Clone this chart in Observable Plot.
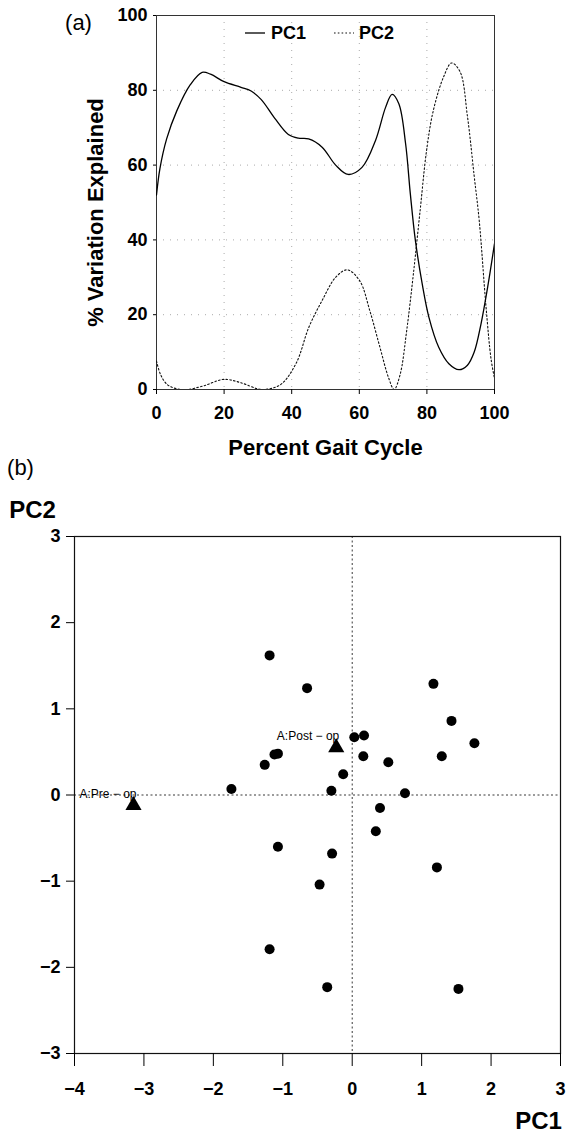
<!DOCTYPE html>
<html>
<head>
<meta charset="utf-8">
<script src="https://cdn.jsdelivr.net/npm/d3@7"></script>
<script src="https://cdn.jsdelivr.net/npm/@observablehq/plot@0.6"></script>
<style>
  body { margin: 0; background: #fff; }
  #wrap { position: relative; width: 566px; height: 1136px; overflow: hidden; background: #fff;
          font-family: "Liberation Sans", Arial, Helvetica, sans-serif; }
  #a { position: absolute; left: 0; top: 0; z-index: 2; }
  #b { position: absolute; left: 0; top: 440px; z-index: 1; }
  #legend { position: absolute; left: 240px; top: 20px; z-index: 3; }
</style>
</head>
<body>
<div id="wrap">
  <div id="a"></div>
  <div id="b"></div>
  <svg id="legend" width="170" height="26"></svg>
</div>
<script>
// ---------- Panel (a): % variation explained across the gait cycle ----------
const pc1Gait   = [0, 1, 3, 6, 10, 13.5, 16, 20, 25, 28, 31, 35, 39, 42, 45, 49, 53, 56.7, 60.8, 64.8, 67.8, 69.7, 71.7, 73.7, 75.1, 76.6, 78.6, 80.6, 83.5, 86.5, 89.5, 92, 94, 96, 98, 100];
const pc1Values = [52, 59, 67, 74.5, 81.5, 84.8, 84.3, 82.3, 80.8, 79.8, 77.5, 72.5, 68.2, 67.2, 67, 64.8, 60, 57.5, 59.4, 66.6, 75.5, 78.9, 76.4, 65.7, 52.3, 39.8, 28.3, 19.3, 11.3, 6.9, 5.3, 6.5, 10, 17.5, 27.5, 39];

const pc2Gait   = [0, 1.2, 3.2, 6, 9, 14, 19.9, 25, 29.8, 31.8, 36.7, 41.3, 45.1, 49, 53, 56.4, 60.1, 63.1, 66.1, 68.6, 70.3, 72.1, 74, 76, 78, 79.9, 81.9, 84.9, 87.3, 89.8, 92, 94, 95.5, 97.5, 99, 100];
const pc2Values = [7.6, 4, 1.3, 0.2, 0, 1.0, 2.7, 1.8, 0.2, 0, 1.3, 7, 16.7, 23.8, 30, 32, 29.1, 21.1, 11.3, 3.3, 0, 4.1, 15.6, 30.9, 47.9, 63.9, 74.6, 83.5, 87.3, 85, 73, 57, 45, 22, 8, 3];

const gaitTicks = [0, 20, 40, 60, 80, 100];
const varTicks  = [0, 20, 40, 60, 80, 100];
const gaitGrid  = [20, 40, 60, 80];
const varGrid   = [20, 40, 60, 80];
const seriesNames = ["PC1", "PC2"];

// ---------- Panel (b): PC scores ----------
const pc1Scores = [-1.19, -0.65, 1.17, 1.43, 1.76, 0.03, 0.17, 0.16, 0.52, 1.29, -1.12, -1.07, -1.26, -0.13, -1.74, -0.30, 0.76, 0.40, 0.34, -1.07, -0.29, 1.22, -0.47, -1.19, -0.36, 1.53];
const pc2Scores = [1.62, 1.24, 1.29, 0.86, 0.60, 0.67, 0.69, 0.45, 0.38, 0.45, 0.47, 0.48, 0.35, 0.24, 0.07, 0.05, 0.02, -0.15, -0.42, -0.60, -0.68, -0.84, -1.04, -1.79, -2.23, -2.25];

const groupLabels = ["A:Pre \u2212 op", "A:Post \u2212 op"];
const groupPC1 = [-3.15, -0.23];
const groupPC2 = [-0.12, 0.55];

const pcXTicks = [-4, -3, -2, -1, 0, 1, 2, 3];
const pcYTicks = [-3, -2, -1, 0, 1, 2, 3];

const FONT = '"Liberation Sans", Arial, Helvetica, sans-serif';
const intFmt = d3.format("d");

const plotA = Plot.plot({
  width: 566,
  height: 460,
  marginLeft: 156,
  marginRight: 72,
  marginTop: 15,
  marginBottom: 71,
  style: { fontFamily: FONT, fontSize: "18px", fontWeight: "bold", background: "none", color: "black", overflow: "visible" },
  x: { domain: [0, 100] },
  y: { domain: [0, 100] },
  marks: [
    Plot.ruleX(gaitGrid, { stroke: "#aaa", strokeDasharray: "1,6", strokeWidth: 1 }),
    Plot.ruleY(varGrid, { stroke: "#aaa", strokeDasharray: "1,6", strokeWidth: 1 }),
    Plot.frame({ stroke: "#333", strokeWidth: 1 }),
    Plot.line(pc2Values, { x: (d, i) => pc2Gait[i], y: d => d, curve: "catmull-rom", stroke: "#111", strokeWidth: 1.1, strokeDasharray: "1.6,2.2", clip: true }),
    Plot.line(pc1Values, { x: (d, i) => pc1Gait[i], y: d => d, curve: "catmull-rom", stroke: "#000", strokeWidth: 1.3, clip: true }),
    Plot.axisX(gaitTicks, { tickSize: 5, tickPadding: 12, label: null, tickFormat: intFmt, fontSize: 18, fontWeight: "bold" }),
    Plot.axisY(varTicks, { tickSize: 3, tickPadding: 6, label: null, tickFormat: intFmt, fontSize: 18, fontWeight: "bold" }),
    Plot.text(["% Variation Explained"], { frameAnchor: "left", dx: -61, dy: 10, rotate: -90, textAnchor: "middle", lineAnchor: "middle", fontSize: 22, fontWeight: "bold" }),
    Plot.text(["Percent Gait Cycle"], { frameAnchor: "bottom", dy: 58, textAnchor: "middle", lineAnchor: "middle", fontSize: 22, fontWeight: "bold" }),
    Plot.text(["(a)"], { frameAnchor: "top-left", dx: -78, dy: 7, textAnchor: "middle", lineAnchor: "middle", fontSize: 22, fontWeight: "normal" })
  ]
});
document.getElementById("a").appendChild(plotA);

// legend
const leg = d3.select("#legend");
leg.append("line").attr("x1", 5).attr("x2", 25).attr("y1", 13).attr("y2", 13).attr("stroke", "#000").attr("stroke-width", 1.3);
leg.append("text").attr("x", 31).attr("y", 13).attr("dy", "0.35em").attr("font-family", FONT).attr("font-size", 18).attr("font-weight", "bold").text(seriesNames[0]);
leg.append("line").attr("x1", 94).attr("x2", 114).attr("y1", 13).attr("y2", 13).attr("stroke", "#111").attr("stroke-width", 1.1).attr("stroke-dasharray", "1.6,2.2");
leg.append("text").attr("x", 119).attr("y", 13).attr("dy", "0.35em").attr("font-family", FONT).attr("font-size", 18).attr("font-weight", "bold").text(seriesNames[1]);

const plotB = Plot.plot({
  width: 566,
  height: 696,
  marginLeft: 74,
  marginRight: 6,
  marginTop: 96,
  marginBottom: 83,
  style: { fontFamily: FONT, fontSize: "18px", fontWeight: "bold", background: "none", color: "black", overflow: "visible" },
  x: { domain: [-4, 3] },
  y: { domain: [-3, 3] },
  marks: [
    Plot.ruleX([0], { stroke: "#222", strokeDasharray: "2,2.5", strokeWidth: 0.9 }),
    Plot.ruleY([0], { stroke: "#222", strokeDasharray: "2,2.5", strokeWidth: 0.9 }),
    Plot.frame({ stroke: "#111", strokeWidth: 1.2 }),
    Plot.dot(pc1Scores, { x: d => d, y: (d, i) => pc2Scores[i], r: 5, fill: "#000", stroke: "none" }),
    Plot.dot(groupPC1, { x: d => d, y: (d, i) => groupPC2[i], symbol: "triangle", r: 6, fill: "#000", stroke: "none" }),
    Plot.text(groupLabels, { x: (d, i) => groupPC1[i], y: (d, i) => groupPC2[i], text: d => d, textAnchor: "end", lineAnchor: "middle", dx: 3, dy: -11, fontSize: 12, fontWeight: "normal" }),
    Plot.axisX(pcXTicks, { tickSize: 13, tickPadding: 16, label: null, tickFormat: intFmt, fontSize: 18, fontWeight: "bold" }),
    Plot.axisY(pcYTicks, { tickSize: 8, tickPadding: 6, label: null, tickFormat: intFmt, fontSize: 18, fontWeight: "bold" }),
    Plot.text(["(b)"], { frameAnchor: "top-left", dx: -54, dy: -69, textAnchor: "middle", lineAnchor: "middle", fontSize: 22, fontWeight: "normal" }),
    Plot.text(["PC2"], { frameAnchor: "top-left", dx: -42, dy: -26, textAnchor: "middle", lineAnchor: "middle", fontSize: 24, fontWeight: "bold" }),
    Plot.text(["PC1"], { frameAnchor: "bottom-right", dx: -22, dy: 68, textAnchor: "middle", lineAnchor: "middle", fontSize: 24, fontWeight: "bold" })
  ]
});
document.getElementById("b").appendChild(plotB);
</script>
</body>
</html>
